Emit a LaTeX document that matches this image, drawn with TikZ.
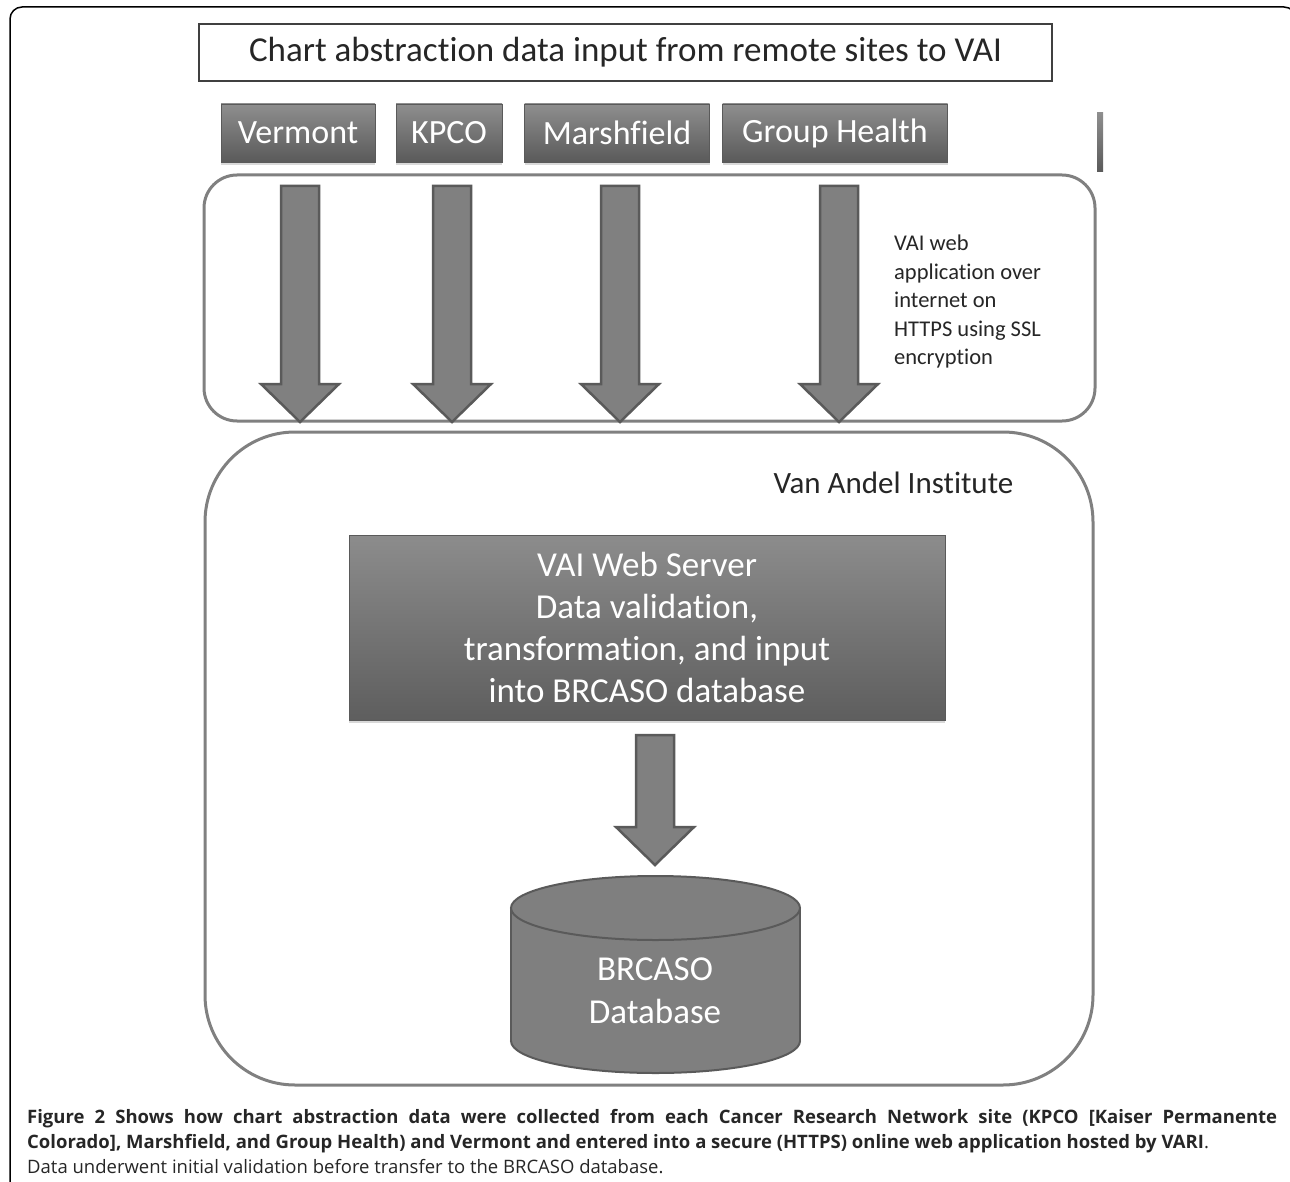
\documentclass[tikz,border=0pt]{standalone}
\usepackage{fontspec}
\setmainfont{Carlito}[Ligatures=NoCommon]
\newfontfamily\capfont{Open Sans}
\usetikzlibrary{shadows}

\definecolor{arrowgray}{HTML}{808080}
\definecolor{arrowedge}{HTML}{5A5A5A}
\definecolor{panelgray}{HTML}{808080}
\definecolor{siteTop}{HTML}{8E8E8E}
\definecolor{siteBot}{HTML}{5A5A5A}
\definecolor{srvTop}{HTML}{8C8C8C}
\definecolor{srvMid}{HTML}{777777}
\definecolor{srvBot}{HTML}{5E5E5E}
\definecolor{dbgray}{HTML}{7F7F7F}
\definecolor{titleedge}{HTML}{404040}
\definecolor{textdark}{HTML}{262626}

\tikzset{
  sitebox/.style={draw=arrowedge, line width=0.8pt, top color=siteTop, bottom color=siteBot,
    text=white, font=\fontsize{34}{40}\selectfont, minimum height=58pt, inner sep=0pt,
    drop shadow={opacity=0.3, shadow xshift=0pt, shadow yshift=-3pt}},
  panel/.style={draw=panelgray, line width=3pt, fill=white, inner sep=0pt},
  arrowshape/.style={fill=arrowgray, draw=arrowedge, line width=2.5pt, line join=miter},
  labeltext/.style={text=textdark, inner sep=0pt},
}

\newcommand\blockarrow[3]{% center x, top y, tip y
  \draw[arrowshape] (#1-19,#2) -- (#1+19,#2) -- (#1+19,#3-38) -- (#1+39,#3-38)
    -- (#1,#3) -- (#1-39,#3-38) -- (#1-19,#3-38) -- cycle;
}

\begin{document}
\begin{tikzpicture}[x=1pt,y=-1pt]
\useasboundingbox (0,0) rectangle (1290,1182);

% outer frame (only top and left visible)
\draw[line width=1.5pt, rounded corners=12pt] (10,1190) -- (10,7) -- (1296,7) -- (1296,1190);

% title
\node[draw=titleedge, line width=1.8pt, minimum width=853pt, minimum height=57pt, inner sep=0pt,
  font=\fontsize{35}{40}\selectfont, text=textdark] (title) at (625.5,52.5)
  {Chart abstraction data input from remote sites to VAI};

% sites
\node[sitebox, minimum width=154pt] (vermont) at (298,133) {Vermont};
\node[sitebox, minimum width=106pt] (kpco) at (449,133) {KPCO};
\node[sitebox, minimum width=185pt] (marsh) at (617,133) {Marshfield};
\node[sitebox, minimum width=225pt] (gh) at (835,133) {Group Health};

% small vertical bar
\node[draw=none, top color=siteTop, bottom color=siteBot, minimum width=6pt, minimum height=59pt,
  inner sep=0pt] (bar) at (1100,142.5) {};

% web application panel
\node[panel, rounded corners=33pt, minimum width=891pt, minimum height=246pt] (web) at (649.5,298) {};

% Van Andel Institute panel
\node[panel, rounded corners=90pt, minimum width=888pt, minimum height=653pt] (vai) at (649,758.5) {};

% arrows from sites
\blockarrow{300}{186}{422}
\blockarrow{452}{186}{422}
\blockarrow{620}{186}{422}
\blockarrow{839}{186}{422}

% web text
\node[labeltext, anchor=west, align=left, font=\fontsize{22.5}{28.5}\selectfont] (webtxt) at (894,302)
  {VAI web\\application over\\internet on\\HTTPS using SSL\\encryption};

\node[labeltext, font=\fontsize{31}{36}\selectfont] (vailbl) at (893.5,483) {Van Andel Institute};

% server
\node[draw=arrowedge, line width=1pt, top color=srvTop, middle color=srvMid, bottom color=srvBot,
  minimum width=596pt, minimum height=185pt, inner sep=0pt, text=white, align=center,
  font=\fontsize{35}{42}\selectfont,
  drop shadow={opacity=0.3, shadow xshift=0pt, shadow yshift=-3pt}] (server) at (647,627.5)
  {VAI Web Server\\Data validation,\\transformation, and input\\into BRCASO database};

% arrow server -> database
\blockarrow{655}{735}{865}

% database cylinder
\filldraw[fill=dbgray, draw=arrowedge, line width=2pt] (655.5,1041) ellipse [x radius=144.5, y radius=32];
\fill[dbgray] (511,908) rectangle (800,1041);
\draw[arrowedge, line width=2pt] (511,908) -- (511,1041) (800,908) -- (800,1041);
\filldraw[fill=dbgray, draw=arrowedge, line width=2pt] (655.5,908) ellipse [x radius=144.5, y radius=32];
\node[text=white, align=center, font=\fontsize{35}{43}\selectfont, inner sep=0pt] (db) at (655,991)
  {BRCASO\\Database};

% caption
\node[anchor=north west, inner sep=0pt, text width=1250pt, align=justify,
  font=\capfont\fontsize{18.5}{25}\selectfont, text=textdark] (caption) at (27,1109)
  {\textbf{Figure 2 Shows how chart abstraction data were collected from each Cancer Research Network site (KPCO [Kaiser Permanente}\linebreak
   \textbf{Colorado], Marshfield, and Group Health) and Vermont and entered into a secure (HTTPS) online web application hosted by VARI}.\\
   Data underwent initial validation before transfer to the BRCASO database.};
\end{tikzpicture}
\end{document}
